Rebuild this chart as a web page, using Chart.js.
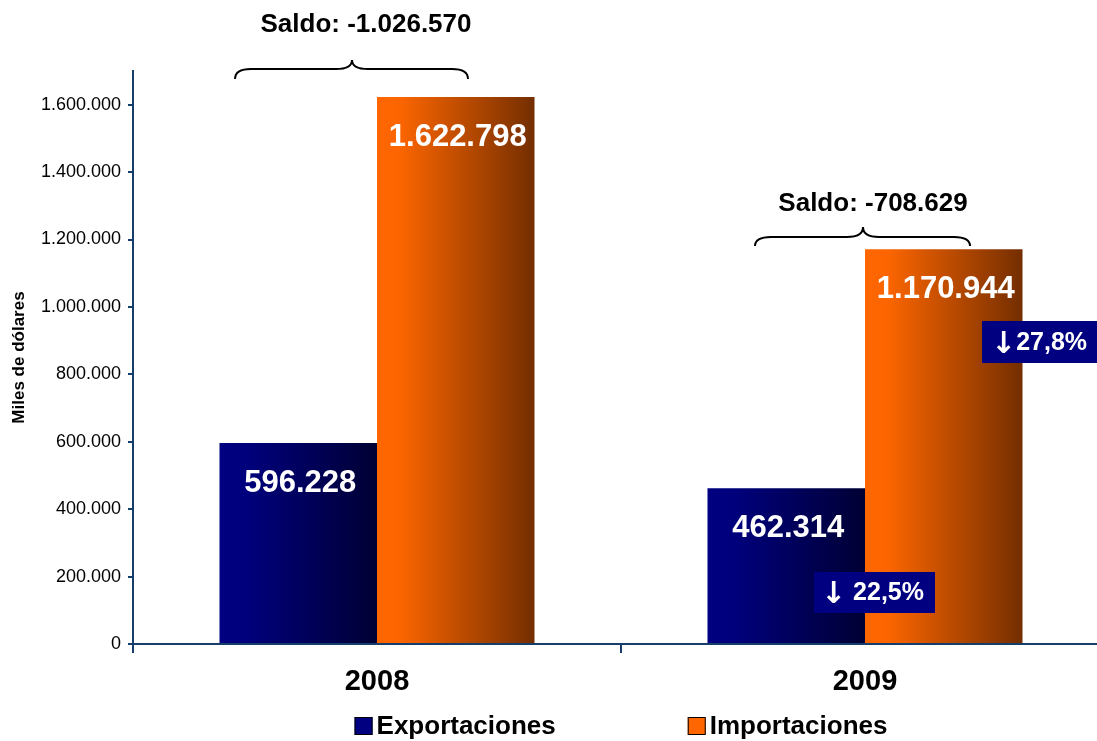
<!DOCTYPE html>
<html>
<head>
<meta charset="utf-8">
<script src="https://cdn.jsdelivr.net/npm/chart.js@4/dist/chart.umd.min.js"></script>
<style>
  html, body { margin: 0; padding: 0; background: #fff; overflow: hidden; }
  #wrap { width: 1115px; height: 741px; }
</style>
</head>
<body>
<div id="wrap"><canvas id="c" width="1115" height="741"></canvas></div>
<script>
// ---- data ----
const categories = ['2008', '2009'];
const seriesNames = ['Exportaciones', 'Importaciones'];
const exportaciones = [596228, 462314];
const importaciones = [1622798, 1170944];
const saldoLabels = ['Saldo: -1.026.570', 'Saldo: -708.629'];
const changeArrows = ['\u2193', '\u2193'];
const changeLabels = [' 22,5%', '27,8%'];
const yTicks = [0, 200000, 400000, 600000, 800000, 1000000, 1200000, 1400000, 1600000];

const FONT = '"Liberation Sans", Arial, Helvetica, sans-serif';
const AXIS = '#173d6b';
const EXP_BASE = '#000080';
const IMP_BASE = '#FF6600';
const CAT_PCT = 0.6455;

function fmt(v) {
  const s = Math.round(Math.abs(v)).toString();
  return (v < 0 ? '-' : '') + s.replace(/\B(?=(\d{3})+(?!\d))/g, '.');
}

function barGradient(stops) {
  return function (ctx) {
    const chart = ctx.chart;
    const xs = chart.scales && chart.scales.x;
    if (!chart.chartArea || !xs || ctx.dataIndex === undefined) return stops[0][1];
    const center = xs.getPixelForValue(ctx.dataIndex);
    const catW = xs.width / categories.length;
    const barW = catW * CAT_PCT / 2;
    const left = center - barW + ctx.datasetIndex * barW;
    const g = chart.ctx.createLinearGradient(left, 0, left + barW, 0);
    stops.forEach(s => g.addColorStop(s[0], s[1]));
    return g;
  };
}

const valueLabelPlugin = {
  id: 'valueLabels',
  afterDatasetsDraw(chart) {
    const ctx = chart.ctx;
    ctx.save();
    ctx.fillStyle = '#ffffff';
    ctx.font = 'bold 31px ' + FONT;
    ctx.textAlign = 'center';
    ctx.textBaseline = 'middle';
    chart.data.datasets.forEach((ds, di) => {
      const meta = chart.getDatasetMeta(di);
      meta.data.forEach((bar, i) => {
        ctx.fillText(fmt(ds.data[i]), bar.x + 2, bar.y + 40);
      });
    });
    ctx.restore();
  }
};

const annotationPlugin = {
  id: 'annots',
  afterDraw(chart) {
    const ctx = chart.ctx;
    ctx.save();
    // braces
    const braces = [
      {x1: 235, x2: 468, xm: 352, yEnd: 79, yLine: 69, yPeak: 60},
      {x1: 755, x2: 970, xm: 863, yEnd: 246, yLine: 237, yPeak: 227}
    ];
    ctx.strokeStyle = '#000';
    ctx.lineWidth = 2;
    braces.forEach(b => {
      const r = 16;
      ctx.beginPath();
      ctx.moveTo(b.x1, b.yEnd);
      ctx.quadraticCurveTo(b.x1, b.yLine, b.x1 + r, b.yLine);
      ctx.lineTo(b.xm - r, b.yLine);
      ctx.quadraticCurveTo(b.xm, b.yLine, b.xm, b.yPeak);
      ctx.quadraticCurveTo(b.xm, b.yLine, b.xm + r, b.yLine);
      ctx.lineTo(b.x2 - r, b.yLine);
      ctx.quadraticCurveTo(b.x2, b.yLine, b.x2, b.yEnd);
      ctx.stroke();
    });
    // saldo labels
    ctx.fillStyle = '#000';
    ctx.font = 'bold 26px ' + FONT;
    ctx.textAlign = 'center';
    ctx.textBaseline = 'middle';
    ctx.fillText(saldoLabels[0], 366, 25);
    ctx.fillText(saldoLabels[1], 873, 204);
    // change boxes
    const boxes = [
      {x: 814, y: 572, w: 121, h: 41, i: 0},
      {x: 982, y: 321, w: 118, h: 42, i: 1}
    ];
    boxes.forEach(b => {
      ctx.fillStyle = '#000080';
      ctx.fillRect(b.x, b.y, b.w, b.h);
      ctx.fillStyle = '#fff';
      ctx.textBaseline = 'middle';
      ctx.textAlign = 'left';
      const arrowFont = 'bold 30px "DejaVu Sans", ' + FONT;
      const txtFont = 'bold 25px ' + FONT;
      ctx.font = arrowFont;
      const aw = ctx.measureText(changeArrows[b.i]).width;
      ctx.font = txtFont;
      const tw = ctx.measureText(changeLabels[b.i]).width;
      const x0 = b.x + (b.w - aw - tw) / 2 - 2;
      ctx.font = arrowFont;
      ctx.fillText(changeArrows[b.i], x0, b.y + b.h / 2 + 3);
      ctx.font = txtFont;
      ctx.fillText(changeLabels[b.i], x0 + aw, b.y + b.h / 2 + 1);
    });
    // legend
    const area = chart.chartArea;
    const cx = (area.left + area.right) / 2;
    ctx.font = 'bold 26px ' + FONT;
    const box = 18, gapTxt = 4, gapItem = 132;
    const items = chart.data.datasets.map((ds, i) => ({
      label: ds.label, color: [EXP_BASE, IMP_BASE][i],
      w: box + gapTxt + ctx.measureText(ds.label).width
    }));
    const total = items.reduce((s, it) => s + it.w, 0) + gapItem * (items.length - 1);
    let x = cx - total / 2;
    const ly = 726;
    items.forEach(it => {
      ctx.fillStyle = it.color;
      ctx.fillRect(x, ly - box / 2, box, box);
      ctx.strokeStyle = '#000';
      ctx.lineWidth = 1;
      ctx.strokeRect(x + 0.5, ly - box / 2 + 0.5, box - 1, box - 1);
      ctx.fillStyle = '#000';
      ctx.textAlign = 'left';
      ctx.textBaseline = 'middle';
      ctx.fillText(it.label, x + box + gapTxt, ly + 1);
      x += it.w + gapItem;
    });
    ctx.restore();
  }
};

new Chart(document.getElementById('c'), {
  type: 'bar',
  data: {
    labels: categories,
    datasets: [
      {
        label: seriesNames[0],
        data: exportaciones,
        backgroundColor: barGradient([[0, '#000080'], [0.15, '#00007e'], [1, '#000034']]),
        borderWidth: 0,
        categoryPercentage: CAT_PCT,
        barPercentage: 1
      },
      {
        label: seriesNames[1],
        data: importaciones,
        backgroundColor: barGradient([[0, '#FF6600'], [0.15, '#FB6500'], [1, '#742E00']]),
        borderWidth: 0,
        categoryPercentage: CAT_PCT,
        barPercentage: 1
      }
    ]
  },
  options: {
    responsive: false,
    animation: false,
    events: [],
    layout: { padding: { top: 71, left: 0, right: 6, bottom: 0 } },
    plugins: {
      legend: { display: false },
      tooltip: { enabled: false },
      title: { display: false }
    },
    scales: {
      x: {
        offset: true,
        afterFit(scale) { scale.height = 97; },
        border: { display: true, color: AXIS, width: 2 },
        grid: {
          display: true, offset: true, drawOnChartArea: false, drawTicks: true,
          tickLength: 9, color: AXIS, lineWidth: 2
        },
        ticks: {
          color: '#000',
          font: { family: FONT, size: 29, weight: 'bold' },
          padding: 12,
          maxRotation: 0
        }
      },
      y: {
        min: 0,
        max: 1700000,
        afterFit(scale) { scale.width = 133; },
        afterBuildTicks(scale) { scale.ticks = yTicks.map(v => ({ value: v })); },
        border: { display: true, color: AXIS, width: 2 },
        grid: {
          display: true, drawOnChartArea: false, drawTicks: true,
          tickLength: 5, color: AXIS, lineWidth: 2
        },
        ticks: {
          color: '#000',
          font: { family: FONT, size: 18 },
          padding: 7,
          callback: (v) => fmt(v)
        },
        title: {
          display: true,
          text: 'Miles de dólares',
          color: '#000',
          font: { family: FONT, size: 17, weight: 'bold' },
          padding: { top: 9, bottom: 0 }
        }
      }
    }
  },
  plugins: [valueLabelPlugin, annotationPlugin]
});
</script>
</body>
</html>
